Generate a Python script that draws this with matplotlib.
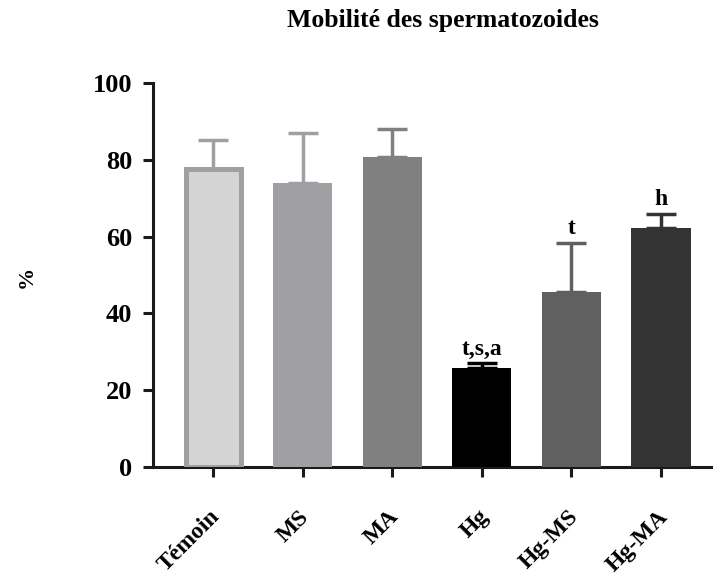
import matplotlib
matplotlib.use("Agg")
import matplotlib.pyplot as plt
import matplotlib.transforms as mtransforms

plt.rcParams["font.family"] = ["Liberation Serif", "DejaVu Serif"]
plt.rcParams["font.weight"] = "bold"

# données
groups = ["Témoin", "MS", "MA", "Hg", "Hg-MS", "Hg-MA"]
means = [77.5, 74.0, 80.8, 25.7, 45.7, 62.3]
errors = [7.7, 13.0, 7.2, 1.3, 12.7, 3.7]
signif = ["", "", "", "t,s,a", "t", "h"]
yticks = [0, 20, 40, 60, 80, 100]

fills = ["#d4d4d4", "#a0a0a4", "#808080", "#000000", "#606060", "#333333"]
edges = ["#a0a0a4", "#a0a0a4", "#808080", "#000000", "#606060", "#333333"]

fig = plt.figure(figsize=(7.13, 5.87), dpi=100)
ax = fig.add_axes([0.2146, 0.2044, 0.7854, 0.6542])

x = list(range(len(groups)))
widths = [0.614, 0.66, 0.66, 0.66, 0.66, 0.66]
lws = [3.6, 0, 0, 0, 0, 0]
ax.bar(x, means, width=widths, color=fills, edgecolor=edges, linewidth=lws, zorder=3)

# barres d'erreur (seulement vers le haut)
for i in x:
    ax.errorbar(i, means[i], yerr=[[0], [errors[i]]], fmt="none", ecolor=edges[i],
                elinewidth=2.5, capsize=10.8, capthick=2.5, zorder=2, clip_on=False)
    if signif[i]:
        ax.annotate(signif[i], (i, means[i] + errors[i]), xytext=(0, 6),
                    textcoords="offset points", ha="center", va="baseline",
                    fontsize=17, fontweight="bold")

ax.set_xlim(-0.67, 5.58)
ax.set_ylim(0, 100)
ax.set_yticks(yticks)
ax.set_xticks(x)
ax.set_xticklabels(groups, rotation=45, ha="right", rotation_mode="anchor",
                   fontsize=17, fontweight="bold")
ax.set_yticklabels([str(v) for v in yticks], fontsize=19, fontweight="bold")

for s in ["top", "right"]:
    ax.spines[s].set_visible(False)
for s in ["left", "bottom"]:
    ax.spines[s].set_linewidth(2.2)
    ax.spines[s].set_color("#1a1a1a")
ax.tick_params(axis="both", length=7.2, width=2.2, color="#1a1a1a")
ax.tick_params(axis="y", pad=8)
ax.tick_params(axis="x", pad=21)

# petit décalage des étiquettes x
offset = mtransforms.ScaledTranslation(-4 / 100, 0, fig.dpi_scale_trans)
for lab in ax.get_xticklabels():
    lab.set_transform(lab.get_transform() + offset)

fig.text(27 / 713, 1 - 277 / 587, "%", rotation=90, ha="center", va="center",
         fontsize=16, fontweight="bold")
fig.text(443 / 713, 1 - 27 / 587, "Mobilité des spermatozoides", ha="center",
         va="baseline", fontsize=18.5, fontweight="bold")

fig.savefig("out.png", dpi=100)
